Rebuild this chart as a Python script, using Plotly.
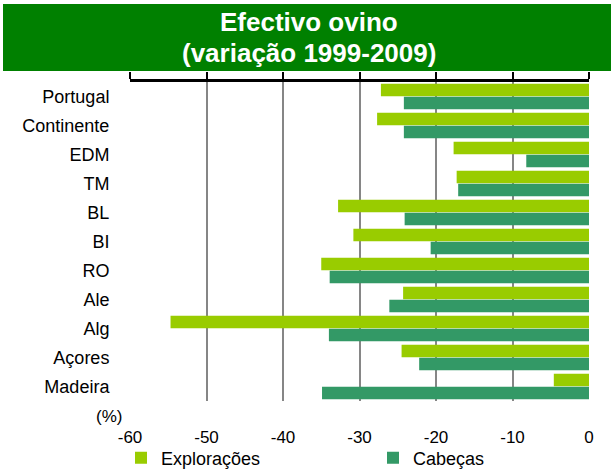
import plotly.graph_objects as go

categories = ["Portugal", "Continente", "EDM", "TM", "BL", "BI", "RO", "Ale", "Alg", "Açores", "Madeira"]
exploracoes = [-27.2, -27.7, -17.7, -17.3, -32.8, -30.8, -35.0, -24.3, -54.7, -24.5, -4.6]
cabecas = [-24.2, -24.2, -8.2, -17.1, -24.1, -20.7, -33.9, -26.1, -34.0, -22.2, -34.9]
tick_vals = [-60, -50, -40, -30, -20, -10, 0]
tick_text = ["-60", "-50", "-40", "-30", "-20", "-10", "0"]

FONT = "Liberation Sans, Arial, sans-serif"
W, H = 611, 470
L, R, T, B = 130, 22, 82, 69
pw, ph = W - L - R, H - T - B

def px_x(p):
    return (p - L) / pw

def px_y(p):
    return (H - B - p) / ph

fig = go.Figure()
fig.add_trace(go.Bar(y=categories, x=exploracoes, orientation="h", name="Explorações",
                     marker=dict(color="#99CC00", line=dict(width=0))))
fig.add_trace(go.Bar(y=categories, x=cabecas, orientation="h", name="Cabeças",
                     marker=dict(color="#339966", line=dict(width=0))))
# dummy trace to get the top axis drawn
fig.add_trace(go.Scatter(x=[None], y=[None], xaxis="x2", showlegend=False, hoverinfo="skip"))

fig.update_layout(
    width=W, height=H,
    margin=dict(l=L, r=R, t=T, b=B, autoexpand=False),
    paper_bgcolor="white", plot_bgcolor="white",
    font=dict(family=FONT, size=17, color="black"),
    barmode="group", bargap=0.1, bargroupgap=0.05,
    showlegend=True,
    legend=dict(orientation="h", x=px_x(121), xanchor="left", y=px_y(458), yanchor="middle",
                font=dict(size=18), entrywidth=207, entrywidthmode="pixels",
                bgcolor="rgba(0,0,0,0)", traceorder="normal"),
    xaxis=dict(range=[-60, 0], tickvals=tick_vals, ticktext=tick_text, showgrid=True,
               gridcolor="#868686", gridwidth=2, zeroline=False, showline=False,
               ticks="outside", ticklen=21, tickcolor="rgba(0,0,0,0)",
               tickfont=dict(size=17), automargin=False),
    xaxis2=dict(range=[-60, 0], overlaying="x", side="top", anchor="y", tickvals=tick_vals,
                showticklabels=False, showgrid=False, zeroline=False, showline=True,
                linecolor="black", linewidth=3, ticks="outside", ticklen=7, tickwidth=2,
                tickcolor="black", automargin=False),
    yaxis=dict(autorange="reversed", showgrid=False, zeroline=False, showline=False,
               ticks="outside", ticklen=16, tickcolor="rgba(0,0,0,0)",
               tickfont=dict(size=18), automargin=False),
    shapes=[dict(type="rect", xref="paper", yref="paper", x0=px_x(3), x1=px_x(611),
                 y0=px_y(71), y1=px_y(4), fillcolor="#008000", line=dict(width=0), layer="below")],
    annotations=[
        dict(text="<b>Efectivo ovino</b>", xref="paper", yref="paper", x=px_x(309), y=px_y(22),
             showarrow=False, font=dict(size=26, color="white", family=FONT), xanchor="center", yanchor="middle"),
        dict(text="<b>(variação 1999-2009)</b>", xref="paper", yref="paper", x=px_x(309), y=px_y(53),
             showarrow=False, font=dict(size=26, color="white", family=FONT), xanchor="center", yanchor="middle"),
        dict(text="(%)", xref="paper", yref="paper", x=px_x(109), y=px_y(416),
             showarrow=False, font=dict(size=17, family=FONT), xanchor="center", yanchor="middle"),
    ],
)

fig.write_html("out.html", config={"displayModeBar": False},
               post_script="document.body.style.margin='0';document.body.style.padding='0';")
